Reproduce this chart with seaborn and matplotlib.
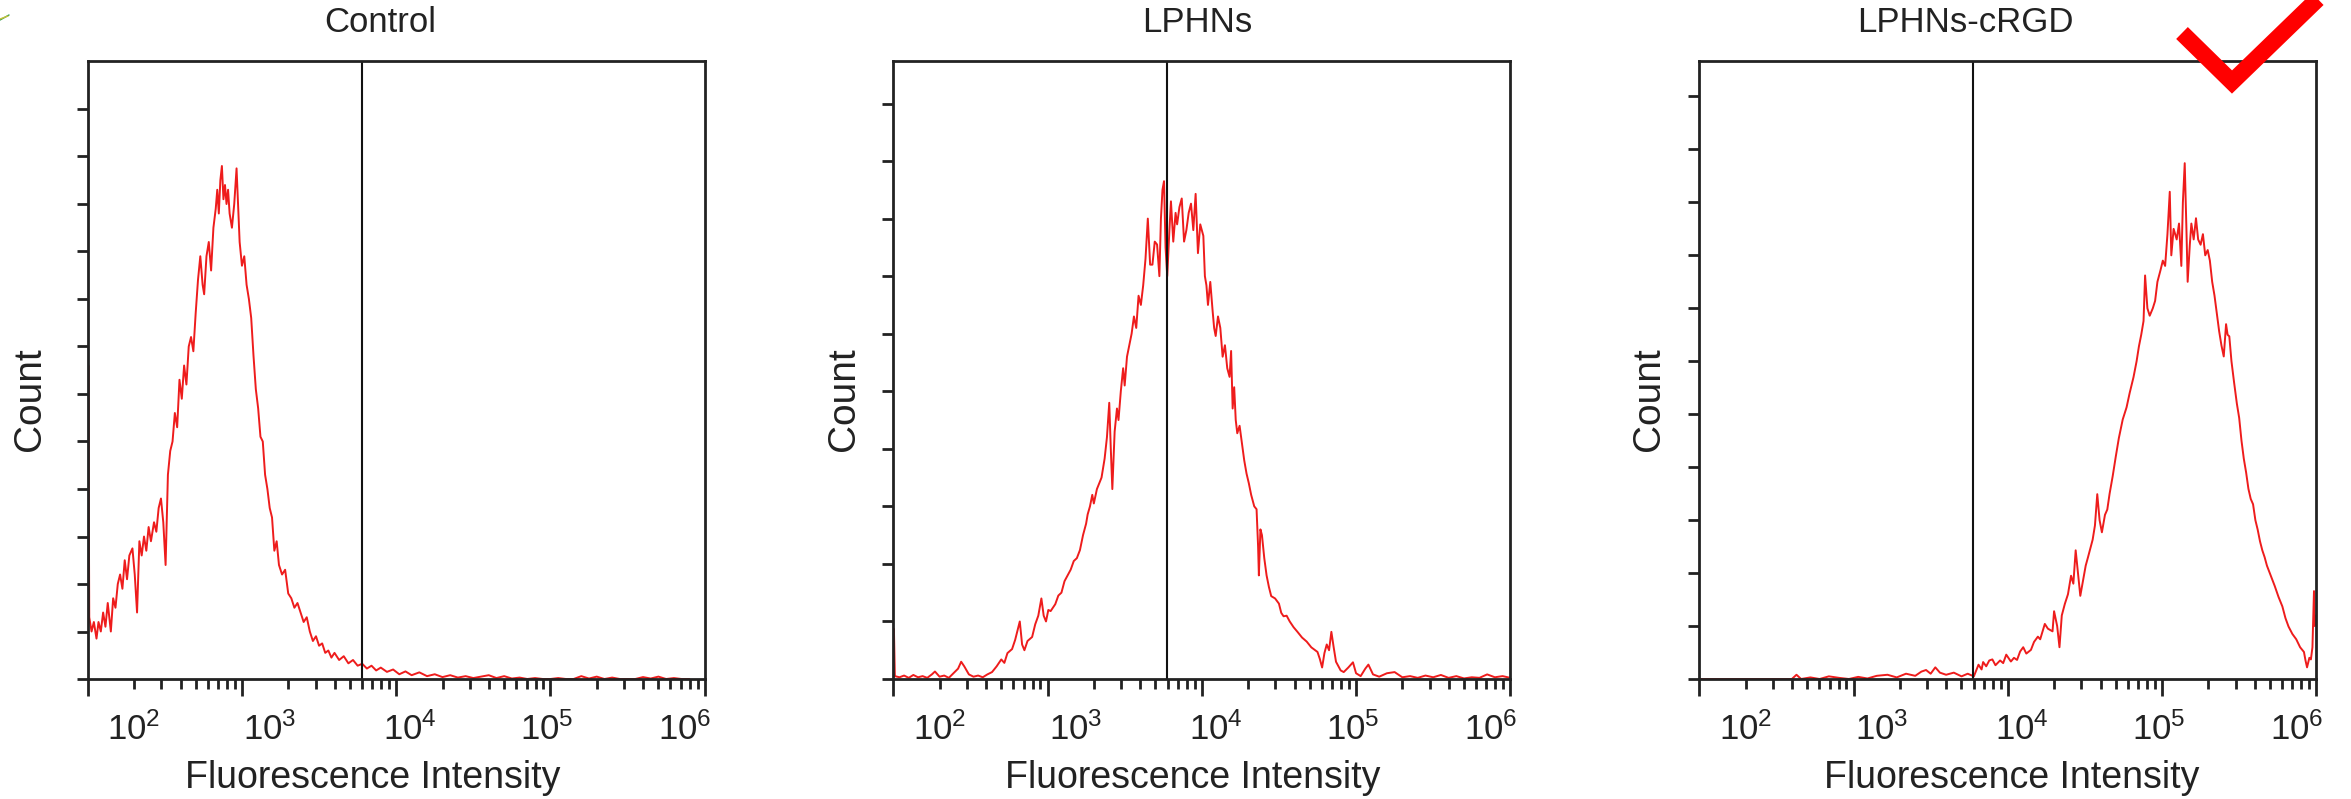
import numpy as np
import pandas as pd
import matplotlib
matplotlib.use('Agg')
import matplotlib.pyplot as plt
import seaborn as sns
from matplotlib.lines import Line2D
from matplotlib.ticker import LogLocator, NullFormatter

sns.set_style('ticks')
plt.rcParams['font.family'] = ['Liberation Sans', 'DejaVu Sans']
plt.rcParams['mathtext.fontset'] = 'custom'
plt.rcParams['mathtext.rm'] = 'Liberation Sans'

# histogram bins: log10(intensity) and count (in tick units)
ctrl_logx = [2.000, 2.004, 2.010, 2.025, 2.040, 2.057, 2.070, 2.085, 2.100, 2.115,
             2.130, 2.150, 2.165, 2.180, 2.195, 2.210, 2.225, 2.240, 2.255, 2.270,
             2.290, 2.305, 2.320, 2.335, 2.350, 2.365, 2.380, 2.395, 2.410, 2.430,
             2.445, 2.460, 2.475, 2.490, 2.505, 2.520, 2.535, 2.550, 2.565, 2.580,
             2.595, 2.610, 2.625, 2.640, 2.655, 2.670, 2.685, 2.700, 2.715, 2.730,
             2.745, 2.755, 2.770, 2.785, 2.800, 2.815, 2.830, 2.840, 2.850, 2.860,
             2.870, 2.880, 2.890, 2.900, 2.910, 2.920, 2.935, 2.950, 2.965, 2.975,
             2.985, 3.000, 3.015, 3.030, 3.045, 3.060, 3.075, 3.090, 3.105, 3.120,
             3.135, 3.150, 3.165, 3.180, 3.195, 3.210, 3.225, 3.240, 3.260, 3.280,
             3.300, 3.320, 3.340, 3.360, 3.380, 3.400, 3.420, 3.440, 3.460, 3.480,
             3.500, 3.520, 3.540, 3.560, 3.580, 3.600, 3.630, 3.660, 3.690, 3.720,
             3.750, 3.780, 3.810, 3.840, 3.870, 3.900, 3.940, 3.980, 4.020, 4.060,
             4.100, 4.150, 4.200, 4.250, 4.300, 4.350, 4.400, 4.450, 4.500, 4.550,
             4.600, 4.650, 4.700, 4.750, 4.800, 4.850, 4.900, 4.950, 5.000, 5.050,
             5.100, 5.150, 5.200, 5.250, 5.300, 5.350, 5.400, 5.450, 5.500, 5.550,
             5.600, 5.650, 5.700, 5.750, 5.800, 5.850, 5.900]
ctrl_count = [0.0, 6.6, 1.3, 1.0, 1.2, 0.85, 1.2, 1.0, 1.4, 1.1,
              1.6, 1.0, 1.7, 1.5, 2.0, 2.2, 1.9, 2.5, 2.1, 2.6,
              2.75, 2.2, 1.4, 2.9, 2.6, 3.0, 2.7, 3.2, 2.9, 3.3,
              3.1, 3.6, 3.8, 3.3, 2.4, 4.3, 4.8, 5.0, 5.6, 5.3,
              6.3, 5.9, 6.6, 6.2, 7.0, 7.2, 6.9, 7.7, 8.4, 8.9,
              8.3, 8.1, 8.9, 9.2, 8.6, 9.5, 9.9, 10.3, 9.8, 10.5,
              10.8, 10.1, 10.4, 10.0, 10.3, 9.8, 9.5, 10.0, 10.75, 10.0,
              9.2, 8.7, 8.9, 8.3, 8.0, 7.6, 6.8, 6.1, 5.7, 5.1,
              5.0, 4.3, 4.0, 3.6, 3.4, 2.7, 2.9, 2.4, 2.2, 2.3,
              1.8, 1.7, 1.5, 1.6, 1.4, 1.2, 1.3, 1.0, 0.8, 0.9,
              0.7, 0.75, 0.55, 0.6, 0.45, 0.55, 0.4, 0.48, 0.33, 0.4,
              0.28, 0.32, 0.22, 0.28, 0.18, 0.24, 0.15, 0.2, 0.1, 0.16,
              0.08, 0.14, 0.06, 0.1, 0.04, 0.08, 0.03, 0.06, 0.02, 0.05,
              0.08, 0.02, 0.06, 0.01, 0.03, 0.0, 0.02, 0.0, 0.0, 0.02,
              0.0, 0.0, 0.06, 0.01, 0.05, 0.0, 0.03, 0.0, 0.0, 0.0,
              0.04, 0.01, 0.05, 0.0, 0.02, 0.0, 0.0]

lphn_logx = [2.000, 2.004, 2.010, 2.04, 2.07, 2.10, 2.13, 2.16, 2.19, 2.22,
             2.25, 2.27, 2.30, 2.33, 2.36, 2.39, 2.42, 2.44, 2.46, 2.49,
             2.52, 2.55, 2.58, 2.61, 2.64, 2.67, 2.70, 2.72, 2.74, 2.77,
             2.79, 2.82, 2.835, 2.85, 2.87, 2.90, 2.92, 2.94, 2.96, 2.975,
             2.99, 3.005, 3.02, 3.05, 3.07, 3.09, 3.11, 3.13, 3.15, 3.17,
             3.19, 3.21, 3.23, 3.25, 3.26, 3.275, 3.29, 3.30, 3.32, 3.35,
             3.37, 3.385, 3.40, 3.41, 3.42, 3.435, 3.45, 3.46, 3.475, 3.49,
             3.50, 3.515, 3.53, 3.545, 3.56, 3.575, 3.59, 3.605, 3.62, 3.635,
             3.65, 3.665, 3.68, 3.695, 3.71, 3.725, 3.735, 3.745, 3.755, 3.765,
             3.776, 3.79, 3.80, 3.815, 3.83, 3.84, 3.855, 3.87, 3.885, 3.90,
             3.915, 3.93, 3.945, 3.96, 3.975, 3.99, 4.01, 4.02, 4.03, 4.04,
             4.055, 4.07, 4.08, 4.09, 4.105, 4.12, 4.135, 4.15, 4.165, 4.18,
             4.19, 4.20, 4.21, 4.22, 4.23, 4.245, 4.26, 4.275, 4.29, 4.305,
             4.32, 4.34, 4.355, 4.365, 4.37, 4.38, 4.39, 4.405, 4.42, 4.435,
             4.45, 4.475, 4.50, 4.515, 4.53, 4.55, 4.57, 4.595, 4.62, 4.65,
             4.68, 4.71, 4.75, 4.765, 4.78, 4.795, 4.81, 4.825, 4.84, 4.855,
             4.87, 4.90, 4.92, 4.95, 4.98, 5.00, 5.03, 5.06, 5.08, 5.11,
             5.15, 5.20, 5.25, 5.30, 5.35, 5.40, 5.45, 5.50, 5.55, 5.60,
             5.65, 5.70, 5.75, 5.80, 5.85, 5.90, 5.95, 6.00]
lphn_count = [0.0, 0.87, 0.05, 0.03, 0.06, 0.02, 0.07, 0.03, 0.05, 0.02,
              0.08, 0.13, 0.04, 0.06, 0.02, 0.10, 0.18, 0.30, 0.22, 0.08,
              0.04, 0.06, 0.03, 0.08, 0.12, 0.22, 0.34, 0.28, 0.45, 0.52,
              0.68, 1.0, 0.6, 0.5, 0.66, 0.73, 0.95, 1.1, 1.4, 1.1,
              1.0, 1.2, 1.18, 1.3, 1.45, 1.5, 1.7, 1.8, 1.9, 2.05,
              2.1, 2.24, 2.5, 2.7, 2.86, 3.0, 3.2, 3.05, 3.3, 3.5,
              3.83, 4.2, 4.8, 4.0, 3.3, 4.3, 4.7, 4.5, 5.0, 5.4,
              5.1, 5.6, 5.8, 6.0, 6.3, 6.1, 6.66, 6.5, 6.84, 7.3,
              8.0, 7.2, 7.2, 7.6, 7.55, 7.0, 8.0, 8.5, 8.65, 7.5,
              7.0, 7.8, 8.3, 7.6, 8.1, 7.9, 8.2, 8.35, 7.6, 7.8,
              8.1, 8.26, 7.8, 8.43, 7.4, 7.9, 7.7, 7.0, 6.84, 6.5,
              6.9, 6.4, 6.1, 5.96, 6.3, 6.1, 5.6, 5.8, 5.4, 5.25,
              5.7, 4.7, 5.07, 4.5, 4.27, 4.4, 4.1, 3.8, 3.57, 3.4,
              3.2, 3.0, 2.95, 2.3, 1.8, 2.6, 2.5, 2.1, 1.8, 1.6,
              1.44, 1.4, 1.31, 1.15, 1.09, 1.1, 1.0, 0.9, 0.82, 0.72,
              0.65, 0.55, 0.47, 0.35, 0.2, 0.45, 0.6, 0.5, 0.82, 0.55,
              0.3, 0.15, 0.12, 0.2, 0.29, 0.1, 0.05, 0.18, 0.25, 0.08,
              0.04, 0.1, 0.12, 0.03, 0.05, 0.02, 0.06, 0.03, 0.07, 0.02,
              0.05, 0.01, 0.03, 0.02, 0.08, 0.03, 0.05, 0.02]

rgd_logx = [2.00, 2.20, 2.40, 2.60, 2.63, 2.66, 2.72, 2.78, 2.84, 2.91,
            2.97, 3.03, 3.09, 3.15, 3.22, 3.28, 3.34, 3.40, 3.44, 3.47,
            3.50, 3.53, 3.56, 3.60, 3.65, 3.70, 3.74, 3.78, 3.80, 3.81,
            3.83, 3.84, 3.86, 3.88, 3.90, 3.92, 3.95, 3.97, 3.99, 4.02,
            4.04, 4.06, 4.08, 4.10, 4.12, 4.15, 4.17, 4.195, 4.21, 4.24,
            4.26, 4.29, 4.30, 4.32, 4.335, 4.35, 4.37, 4.39, 4.41, 4.425,
            4.44, 4.455, 4.47, 4.49, 4.505, 4.52, 4.55, 4.565, 4.58, 4.595,
            4.61, 4.63, 4.645, 4.66, 4.68, 4.70, 4.72, 4.745, 4.77, 4.79,
            4.815, 4.835, 4.85, 4.865, 4.88, 4.89, 4.905, 4.92, 4.94, 4.955,
            4.97, 4.99, 5.005, 5.02, 5.035, 5.05, 5.06, 5.075, 5.095, 5.11,
            5.125, 5.135, 5.147, 5.158, 5.166, 5.18, 5.19, 5.205, 5.22, 5.234,
            5.25, 5.265, 5.28, 5.296, 5.31, 5.325, 5.34, 5.355, 5.37, 5.385,
            5.40, 5.415, 5.425, 5.436, 5.45, 5.467, 5.485, 5.50, 5.515, 5.53,
            5.545, 5.56, 5.575, 5.59, 5.605, 5.62, 5.635, 5.65, 5.665, 5.68,
            5.705, 5.73, 5.755, 5.78, 5.80, 5.82, 5.845, 5.87, 5.895, 5.92,
            5.93, 5.94, 5.955, 5.965, 5.975, 5.985, 5.99, 6.00]
rgd_count = [0.0, 0.0, 0.0, 0.0, 0.08, 0.0, 0.03, 0.0, 0.05, 0.02,
             0.0, 0.04, 0.01, 0.06, 0.08, 0.03, 0.1, 0.06, 0.14, 0.17,
             0.1, 0.22, 0.12, 0.08, 0.12, 0.05, 0.1, 0.05, 0.2, 0.27,
             0.18, 0.32, 0.24, 0.35, 0.37, 0.26, 0.35, 0.3, 0.46, 0.33,
             0.4, 0.36, 0.52, 0.6, 0.48, 0.55, 0.7, 0.8, 0.75, 1.04,
             0.95, 0.9, 1.28, 1.0, 0.6, 1.2, 1.42, 1.6, 1.95, 1.8,
             2.43, 2.0, 1.57, 1.9, 2.14, 2.3, 2.63, 2.9, 3.49, 3.0,
             2.77, 3.1, 3.2, 3.5, 3.83, 4.2, 4.55, 4.9, 5.13, 5.4,
             5.7, 6.0, 6.28, 6.5, 6.76, 7.62, 7.0, 6.86, 7.0, 7.14,
             7.5, 7.72, 7.9, 7.8, 8.4, 9.2, 8.0, 8.5, 8.3, 8.6,
             7.8, 9.0, 9.74, 8.5, 7.5, 8.2, 8.6, 8.3, 8.7, 8.3,
             8.2, 8.4, 8.0, 8.1, 7.9, 7.5, 7.24, 6.9, 6.57, 6.3,
             6.09, 6.7, 6.5, 6.47, 6.0, 5.6, 5.2, 4.93, 4.5, 4.16,
             3.9, 3.59, 3.4, 3.3, 3.0, 2.82, 2.6, 2.43, 2.3, 2.14,
             1.95, 1.76, 1.55, 1.37, 1.15, 0.99, 0.85, 0.75, 0.6, 0.51,
             0.35, 0.22, 0.4, 0.37, 0.6, 1.66, 1.0, 1.2]

titles = ['Control', 'LPHNs', 'LPHNs-cRGD']
tick_labels = [r'$\mathregular{10^{2}}$', r'$\mathregular{10^{3}}$', r'$\mathregular{10^{4}}$',
               r'$\mathregular{10^{5}}$', r'$\mathregular{10^{6}}$']
gate = 10 ** 3.776

panels = [
    dict(logx=ctrl_logx, count=ctrl_count, ymax=13.0, nticks=13,
         left=87.7, title_x=0.474, xlab_x=0.462, ylab_x=-0.093),
    dict(logx=lphn_logx, count=lphn_count, ymax=10.73, nticks=11,
         left=893.3, title_x=0.492, xlab_x=0.485, ylab_x=-0.080),
    dict(logx=rgd_logx, count=rgd_count, ymax=11.66, nticks=12,
         left=1699.3, title_x=0.431, xlab_x=0.507, ylab_x=-0.081),
]

W, H = 2351, 799
fig = plt.figure(figsize=(W / 100, H / 100), dpi=100)

# where the decade labels sit along each axis (log10 positions)
label_pos = [2.298, 3.18, 4.088, 4.979, 5.87]

for p, title in zip(panels, titles):
    assert len(p['logx']) == len(p['count'])
    ax = fig.add_axes([p['left'] / W, 1 - 679 / H, 617 / W, 617.5 / H])
    df = pd.DataFrame({'intensity': 10 ** np.array(p['logx']), 'count': p['count']})
    sns.lineplot(data=df, x='intensity', y='count', ax=ax, color='#ee1c1c',
                 lw=1.4, sort=False, estimator=None)
    ax.set_xscale('log')
    ax.set_xlim(100, 1e6)
    ax.set_ylim(0, p['ymax'])
    ax.axvline(gate, color='#111111', lw=1.5)

    for s in ax.spines.values():
        s.set_linewidth(2.0)
        s.set_color('#222222')

    ax.set_xticks([1e2, 1e3, 1e4, 1e5, 1e6])
    ax.xaxis.set_minor_locator(LogLocator(base=10, subs=np.arange(2, 10)))
    ax.xaxis.set_major_formatter(NullFormatter())
    ax.xaxis.set_minor_formatter(NullFormatter())
    ax.tick_params(axis='x', which='major', direction='out', length=12, width=2, color='#222222')
    ax.tick_params(axis='x', which='minor', direction='out', length=7, width=2, color='#222222')
    ax.set_yticks(np.arange(p['nticks']))
    ax.set_yticklabels([])
    ax.tick_params(axis='y', direction='out', length=8, width=2, color='#222222')

    for lp, lab in zip(label_pos, tick_labels):
        ax.text(10 ** lp, -0.099, lab, transform=ax.get_xaxis_transform(),
                ha='center', va='baseline', fontsize=25, color='#222222')

    ax.set_xlabel('Fluorescence Intensity', fontsize=27, color='#222222')
    ax.xaxis.set_label_coords(p['xlab_x'], -0.177)
    ax.xaxis.label.set_va('baseline')
    ax.set_ylabel('Count', fontsize=28, color='#222222')
    ax.yaxis.set_label_coords(p['ylab_x'], 0.453)
    ax.yaxis.label.set_va('center')
    ax.text(p['title_x'], 1.048, title, transform=ax.transAxes, ha='center',
            va='baseline', fontsize=25, color='#222222')

# red check mark over the third panel
ck_x = [2182, 2232, 2325]
ck_y = [33, 82, -8]
fig.add_artist(Line2D([x / W for x in ck_x], [1 - y / H for y in ck_y],
                      color='#ff0000', lw=12, solid_joinstyle='miter', solid_capstyle='butt'))
# tiny green stroke at the top-left corner
fig.add_artist(Line2D([0, 9 / W], [1 - 20 / H, 1 - 15 / H], color='#2f9a4a', lw=1))
fig.add_artist(Line2D([0, 8 / W], [1 - 19 / H, 1 - 16 / H], color='#c6c23a', lw=1))

fig.savefig('out.png', dpi=100)
